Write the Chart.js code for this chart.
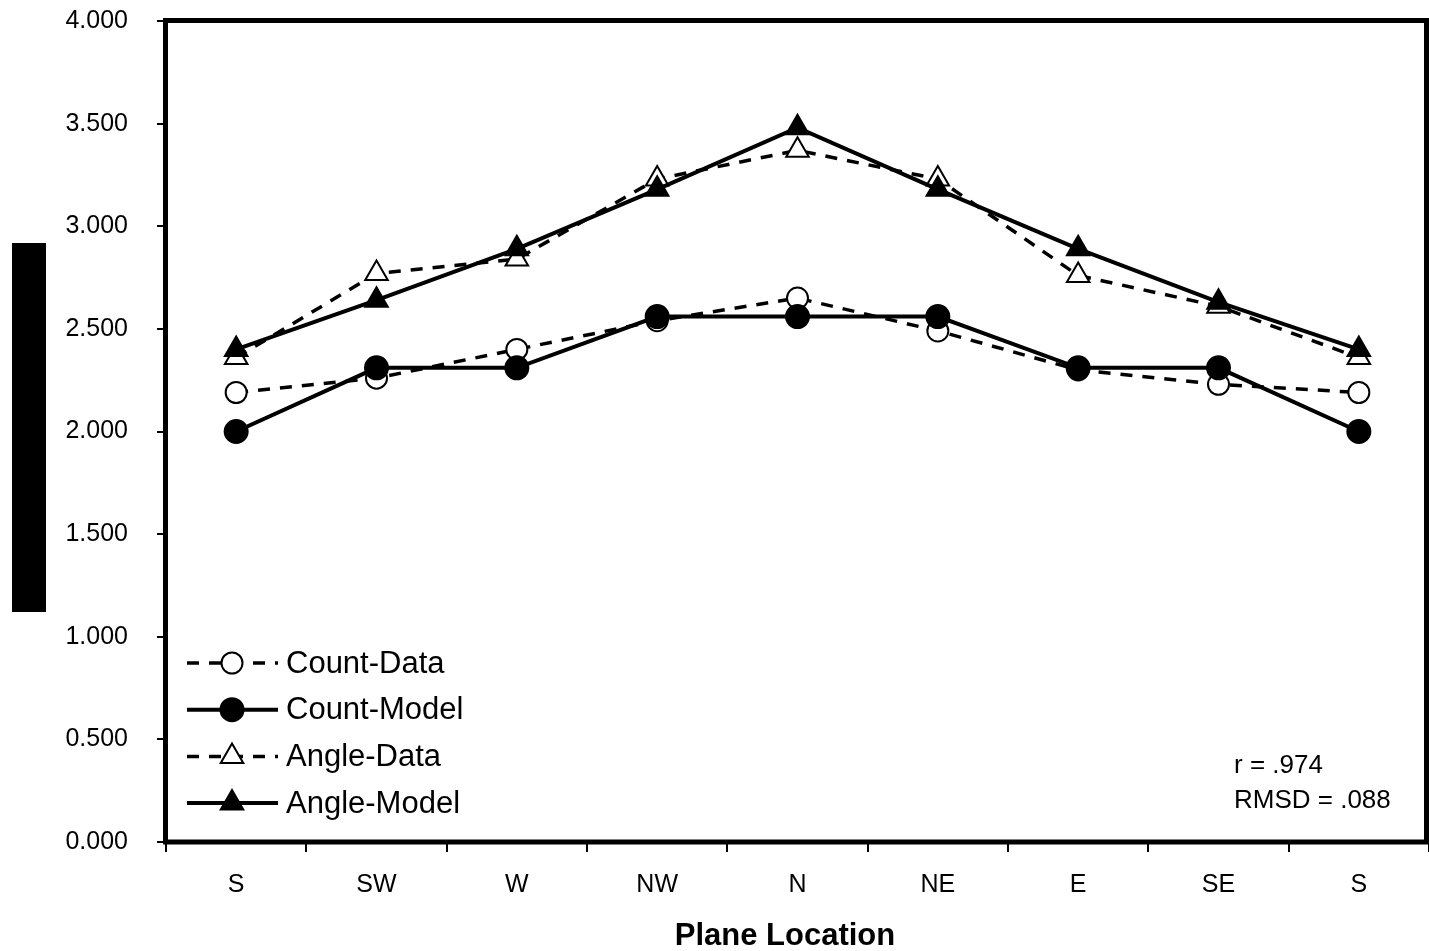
<!DOCTYPE html>
<html>
<head>
<meta charset="utf-8">
<script src="https://cdn.jsdelivr.net/npm/chart.js"></script>
<style>
  body { margin: 0; background: #fff; }
  #wrap { width: 1429px; height: 951px; position: relative; }
</style>
</head>
<body>
<div id="wrap"><canvas id="planeChart"></canvas></div>
<script>
// values
const locations = ["S", "SW", "W", "NW", "N", "NE", "E", "SE", "S"];
const countData = [2.19, 2.26, 2.40, 2.54, 2.65, 2.49, 2.30, 2.23, 2.19];
const countModel = [2.00, 2.31, 2.31, 2.56, 2.56, 2.56, 2.31, 2.31, 2.00];
const angleData = [2.36, 2.77, 2.84, 3.23, 3.37, 3.23, 2.76, 2.61, 2.36];
const angleModel = [2.40, 2.64, 2.89, 3.18, 3.48, 3.18, 2.89, 2.63, 2.40];
const statLines = ["r = .974", "RMSD = .088"];
const xTitle = "Plane Location";

const FONT = "'Liberation Sans', Arial, sans-serif";
Chart.defaults.color = "#000";
Chart.defaults.font.family = FONT;

const DASH = [12, 10];

function series(label, data, dashed, style, filled, radius, order) {
    return {
        label: label,
        data: data,
        borderColor: "#000",
        borderWidth: dashed ? 3.5 : 4,
        borderDash: dashed ? DASH : [],
        fill: false,
        tension: 0,
        pointStyle: style,
        pointRadius: radius,
        pointHoverRadius: radius,
        pointBackgroundColor: filled ? "#000" : "#fff",
        pointBorderColor: "#000",
        pointBorderWidth: 2,
        order: order
    };
}

function markerPath(ctx, style, x, y, r) {
    ctx.beginPath();
    if (style === "triangle") {
        let rad = 0;
        ctx.moveTo(x + Math.sin(rad) * r, y - Math.cos(rad) * r);
        rad += 2 * Math.PI / 3;
        ctx.lineTo(x + Math.sin(rad) * r, y - Math.cos(rad) * r);
        rad += 2 * Math.PI / 3;
        ctx.lineTo(x + Math.sin(rad) * r, y - Math.cos(rad) * r);
        ctx.closePath();
    } else {
        ctx.arc(x, y, r, 0, Math.PI * 2);
    }
}

// frame, inset legend, stats text, x title and the (unreadable) y label block
const decorations = {
    id: "decorations",
    afterDraw(chart) {
        const ctx = chart.ctx;
        const a = chart.chartArea;
        ctx.save();

        // black block where the rasterised y-axis title sits
        ctx.fillStyle = "#000";
        ctx.fillRect(12, 243, 34, 369);

        // plot frame
        ctx.strokeStyle = "#000";
        ctx.lineWidth = 5;
        const right = Math.min(a.right, chart.width - 2.5);
        ctx.strokeRect(a.left - 0.5, a.top - 0.5, right - a.left + 0.5, a.bottom - a.top + 0.5);

        // legend inside the plot
        ctx.font = "31px " + FONT;
        ctx.textBaseline = "middle";
        ctx.textAlign = "left";
        chart.data.datasets.forEach(function (ds, i) {
            const y = 663 + i * 46.7;
            ctx.strokeStyle = "#000";
            ctx.lineWidth = ds.borderWidth;
            ctx.setLineDash(ds.borderDash);
            ctx.beginPath();
            ctx.moveTo(187, y);
            ctx.lineTo(278, y);
            ctx.stroke();
            ctx.setLineDash([]);
            markerPath(ctx, ds.pointStyle, 232, y, ds.pointRadius);
            ctx.fillStyle = ds.pointBackgroundColor;
            ctx.fill();
            ctx.lineWidth = ds.pointBorderWidth;
            ctx.stroke();
            ctx.fillStyle = "#000";
            ctx.fillText(ds.label, 286, y + 1);
        });

        // fit statistics
        ctx.font = "26px " + FONT;
        statLines.forEach(function (t, i) {
            ctx.fillText(t, 1234, 766 + i * 35);
        });

        // x axis title
        ctx.font = "bold 31px " + FONT;
        ctx.textAlign = "center";
        ctx.fillText(xTitle, 785, 936);
        ctx.restore();
    }
};

new Chart(document.getElementById("planeChart"), {
    type: "line",
    data: {
        labels: locations,
        datasets: [
            series("Count-Data", countData, true, "circle", false, 10.5, 1),
            series("Count-Model", countModel, false, "circle", true, 11.5, 0),
            series("Angle-Data", angleData, true, "triangle", false, 13, 1),
            series("Angle-Model", angleModel, false, "triangle", true, 13, 0)
        ]
    },
    options: {
        responsive: true,
        maintainAspectRatio: false,
        animation: false,
        layout: {
            autoPadding: false,
            padding: { top: 21, right: -5, left: 0, bottom: 0 }
        },
        plugins: {
            legend: { display: false },
            tooltip: { enabled: false }
        },
        scales: {
            x: {
                type: "category",
                offset: true,
                grid: {
                    offset: true,
                    drawOnChartArea: false,
                    drawTicks: true,
                    tickLength: 10,
                    lineWidth: 2,
                    color: "#000"
                },
                border: { display: false },
                ticks: {
                    font: { size: 25 },
                    padding: 18,
                    maxRotation: 0,
                    autoSkip: false
                },
                afterFit: function (scale) {
                    scale.height = 109;
                    scale.paddingLeft = 0;
                    scale.paddingRight = 0;
                }
            },
            y: {
                min: 0,
                max: 4,
                grid: {
                    drawOnChartArea: false,
                    drawTicks: true,
                    tickLength: 9,
                    lineWidth: 2,
                    color: "#000"
                },
                border: { display: false },
                ticks: {
                    stepSize: 0.5,
                    font: { size: 25 },
                    padding: 29,
                    callback: function (v) {
                        return Number(v).toFixed(3);
                    }
                },
                afterFit: function (scale) {
                    scale.width = 166;
                    scale.paddingTop = 0;
                    scale.paddingBottom = 0;
                }
            }
        }
    },
    plugins: [decorations]
});
</script>
</body>
</html>
